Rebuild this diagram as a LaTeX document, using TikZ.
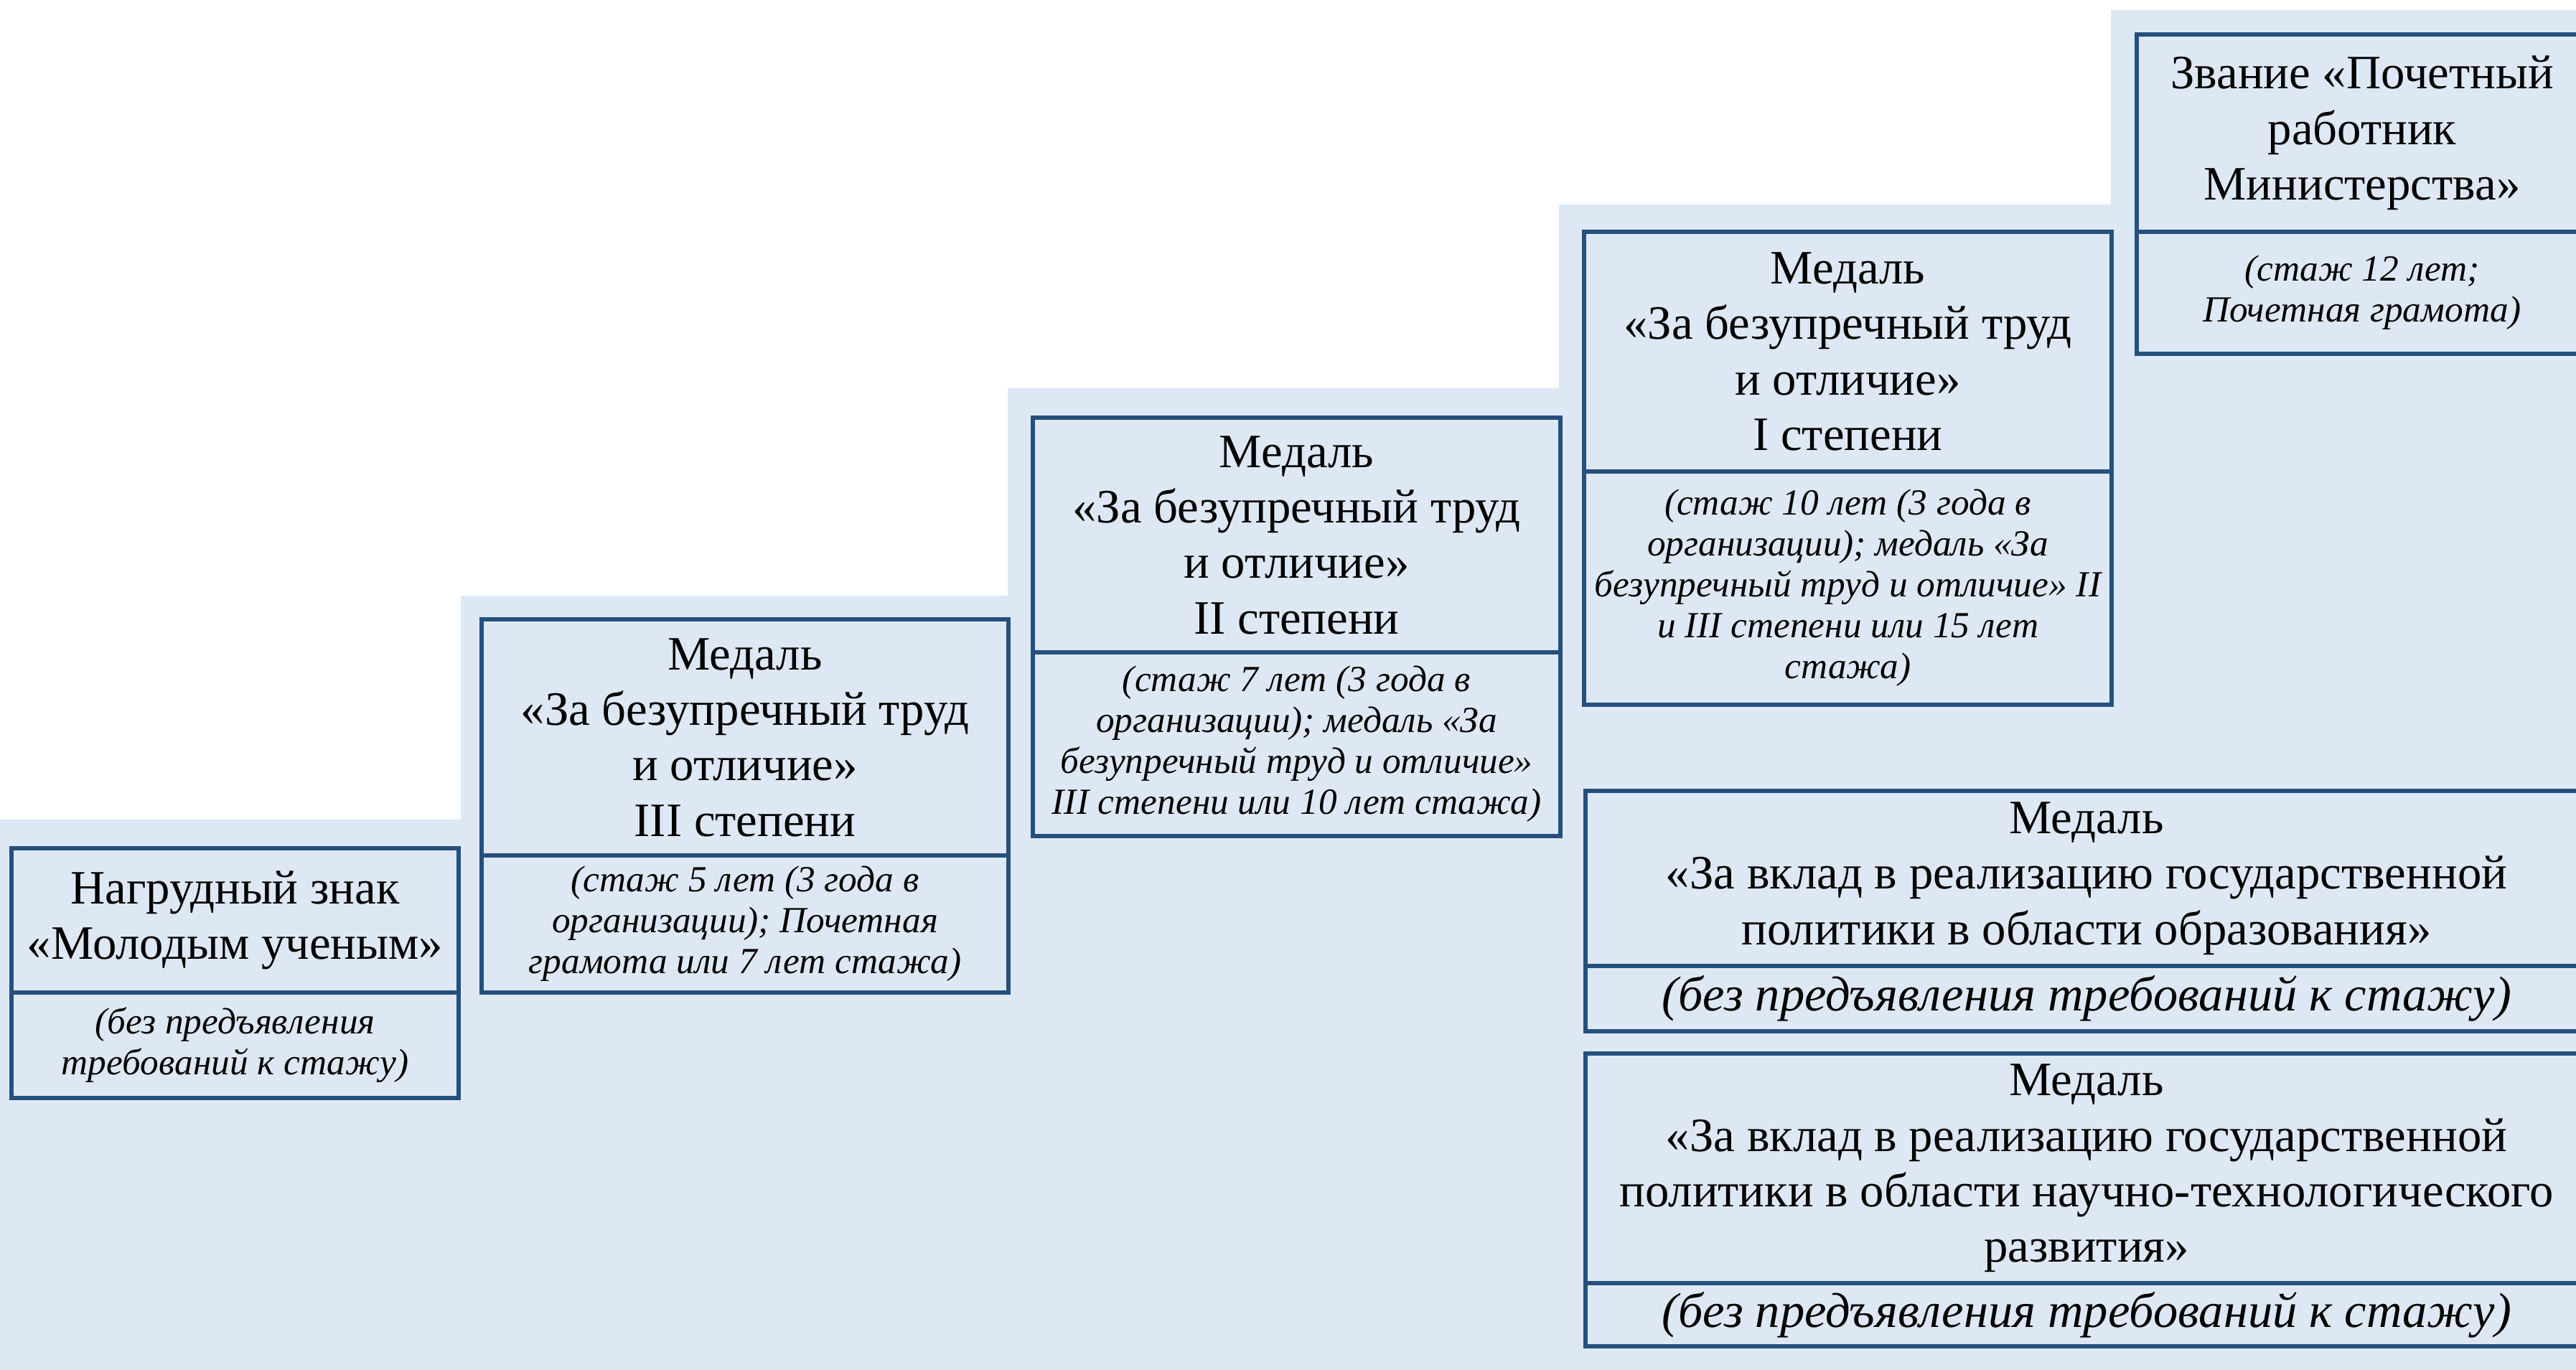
\documentclass[tikz,border=0pt]{standalone}
\usepackage{fontspec}
\setmainfont{Liberation Serif}
\usepackage{xcolor}
\usetikzlibrary{positioning}
\definecolor{stepfill}{HTML}{DEE8F4}
\definecolor{boxline}{HTML}{25507E}

\begin{document}
\begin{tikzpicture}[medal/.style={rectangle, draw=boxline, fill=stepfill, line width=1.5pt,
                    outer sep=0pt, inner sep=1pt, align=center, font=\fontsize{19}{22}\selectfont},
                term/.style={medal, font=\fontsize{14.6}{16.2}\selectfont\itshape},
                bigterm/.style={medal, font=\fontsize{19.5}{23}\selectfont\itshape}]
                \path[use as bounding box, clip] (0,0) rectangle (35.89,-19.09);
                \fill[stepfill] (0,-19.09) -- (0,-11.42) -- (6.42,-11.42) -- (6.42,-8.30)
                    -- (14.04,-8.30) -- (14.04,-5.41) -- (21.72,-5.41) -- (21.72,-2.85)
                    -- (29.41,-2.85) -- (29.41,-0.14) -- (35.89,-0.14) -- (35.89,-19.09) -- cycle;
                \node (znak) [medal, anchor=north west, minimum width=6.23cm, minimum height=2.01cm]
                    at (0.16,-11.82) {Нагрудный знак\\«Молодым ученым»};
                \node (znakterm) [term, below=0pt of znak, minimum width=6.23cm, minimum height=1.47cm]
                    {(без предъявления\\требований к стажу)};
                \node (third) [medal, anchor=north west, minimum width=7.34cm, minimum height=3.29cm]
                    at (6.71,-8.63) {Медаль\\«За безупречный труд\\и отличие»\\III степени};
                \node (thirdterm) [term, below=0pt of third, minimum width=7.34cm, minimum height=1.91cm]
                    {(стаж 5 лет (3 года в\\организации); Почетная\\грамота или 7 лет стажа)};
                \node (second) [medal, anchor=north west, minimum width=7.35cm, minimum height=3.27cm]
                    at (14.39,-5.82) {Медаль\\«За безупречный труд\\и отличие»\\II степени};
                \node (secondterm) [term, below=0pt of second, minimum width=7.35cm, minimum height=2.56cm]
                    {(стаж 7 лет (3 года в\\организации); медаль «За\\безупречный труд и отличие»\\III степени или 10 лет стажа)};
                \node (first) [medal, anchor=north west, minimum width=7.35cm, minimum height=3.34cm]
                    at (22.07,-3.23) {Медаль\\«За безупречный труд\\и отличие»\\I степени};
                \node (firstterm) [term, below=0pt of first, minimum width=7.35cm, minimum height=3.25cm]
                    {(стаж 10 лет (3 года в\\организации); медаль «За\\безупречный труд и отличие» II\\и III степени или 15 лет\\стажа)};
                \node (zvanie) [medal, anchor=north west, minimum width=6.28cm, minimum height=2.75cm]
                    at (29.77,-0.48) {Звание «Почетный\\работник\\Министерства»};
                \node (zvanieterm) [term, below=0pt of zvanie, minimum width=6.28cm, minimum height=1.70cm]
                    {(стаж 12 лет;\\Почетная грамота)};
                \node (obraz) [medal, anchor=north west, minimum width=13.96cm, minimum height=2.44cm]
                    at (22.09,-11.02) {Медаль\\«За вклад в реализацию государственной\\политики в области образования»};
                \node (obrazterm) [bigterm, below=0pt of obraz, minimum width=13.96cm, minimum height=0.91cm]
                    {(без предъявления требований к стажу)};
                \node (nauka) [medal, anchor=north west, minimum width=13.96cm, minimum height=3.20cm]
                    at (22.09,-14.68) {Медаль\\«За вклад в реализацию государственной\\политики в области научно-технологического\\развития»};
                \node (naukaterm) [bigterm, below=0pt of nauka, minimum width=13.96cm, minimum height=0.88cm]
                    {(без предъявления требований к стажу)};
\end{tikzpicture}
\end{document}
